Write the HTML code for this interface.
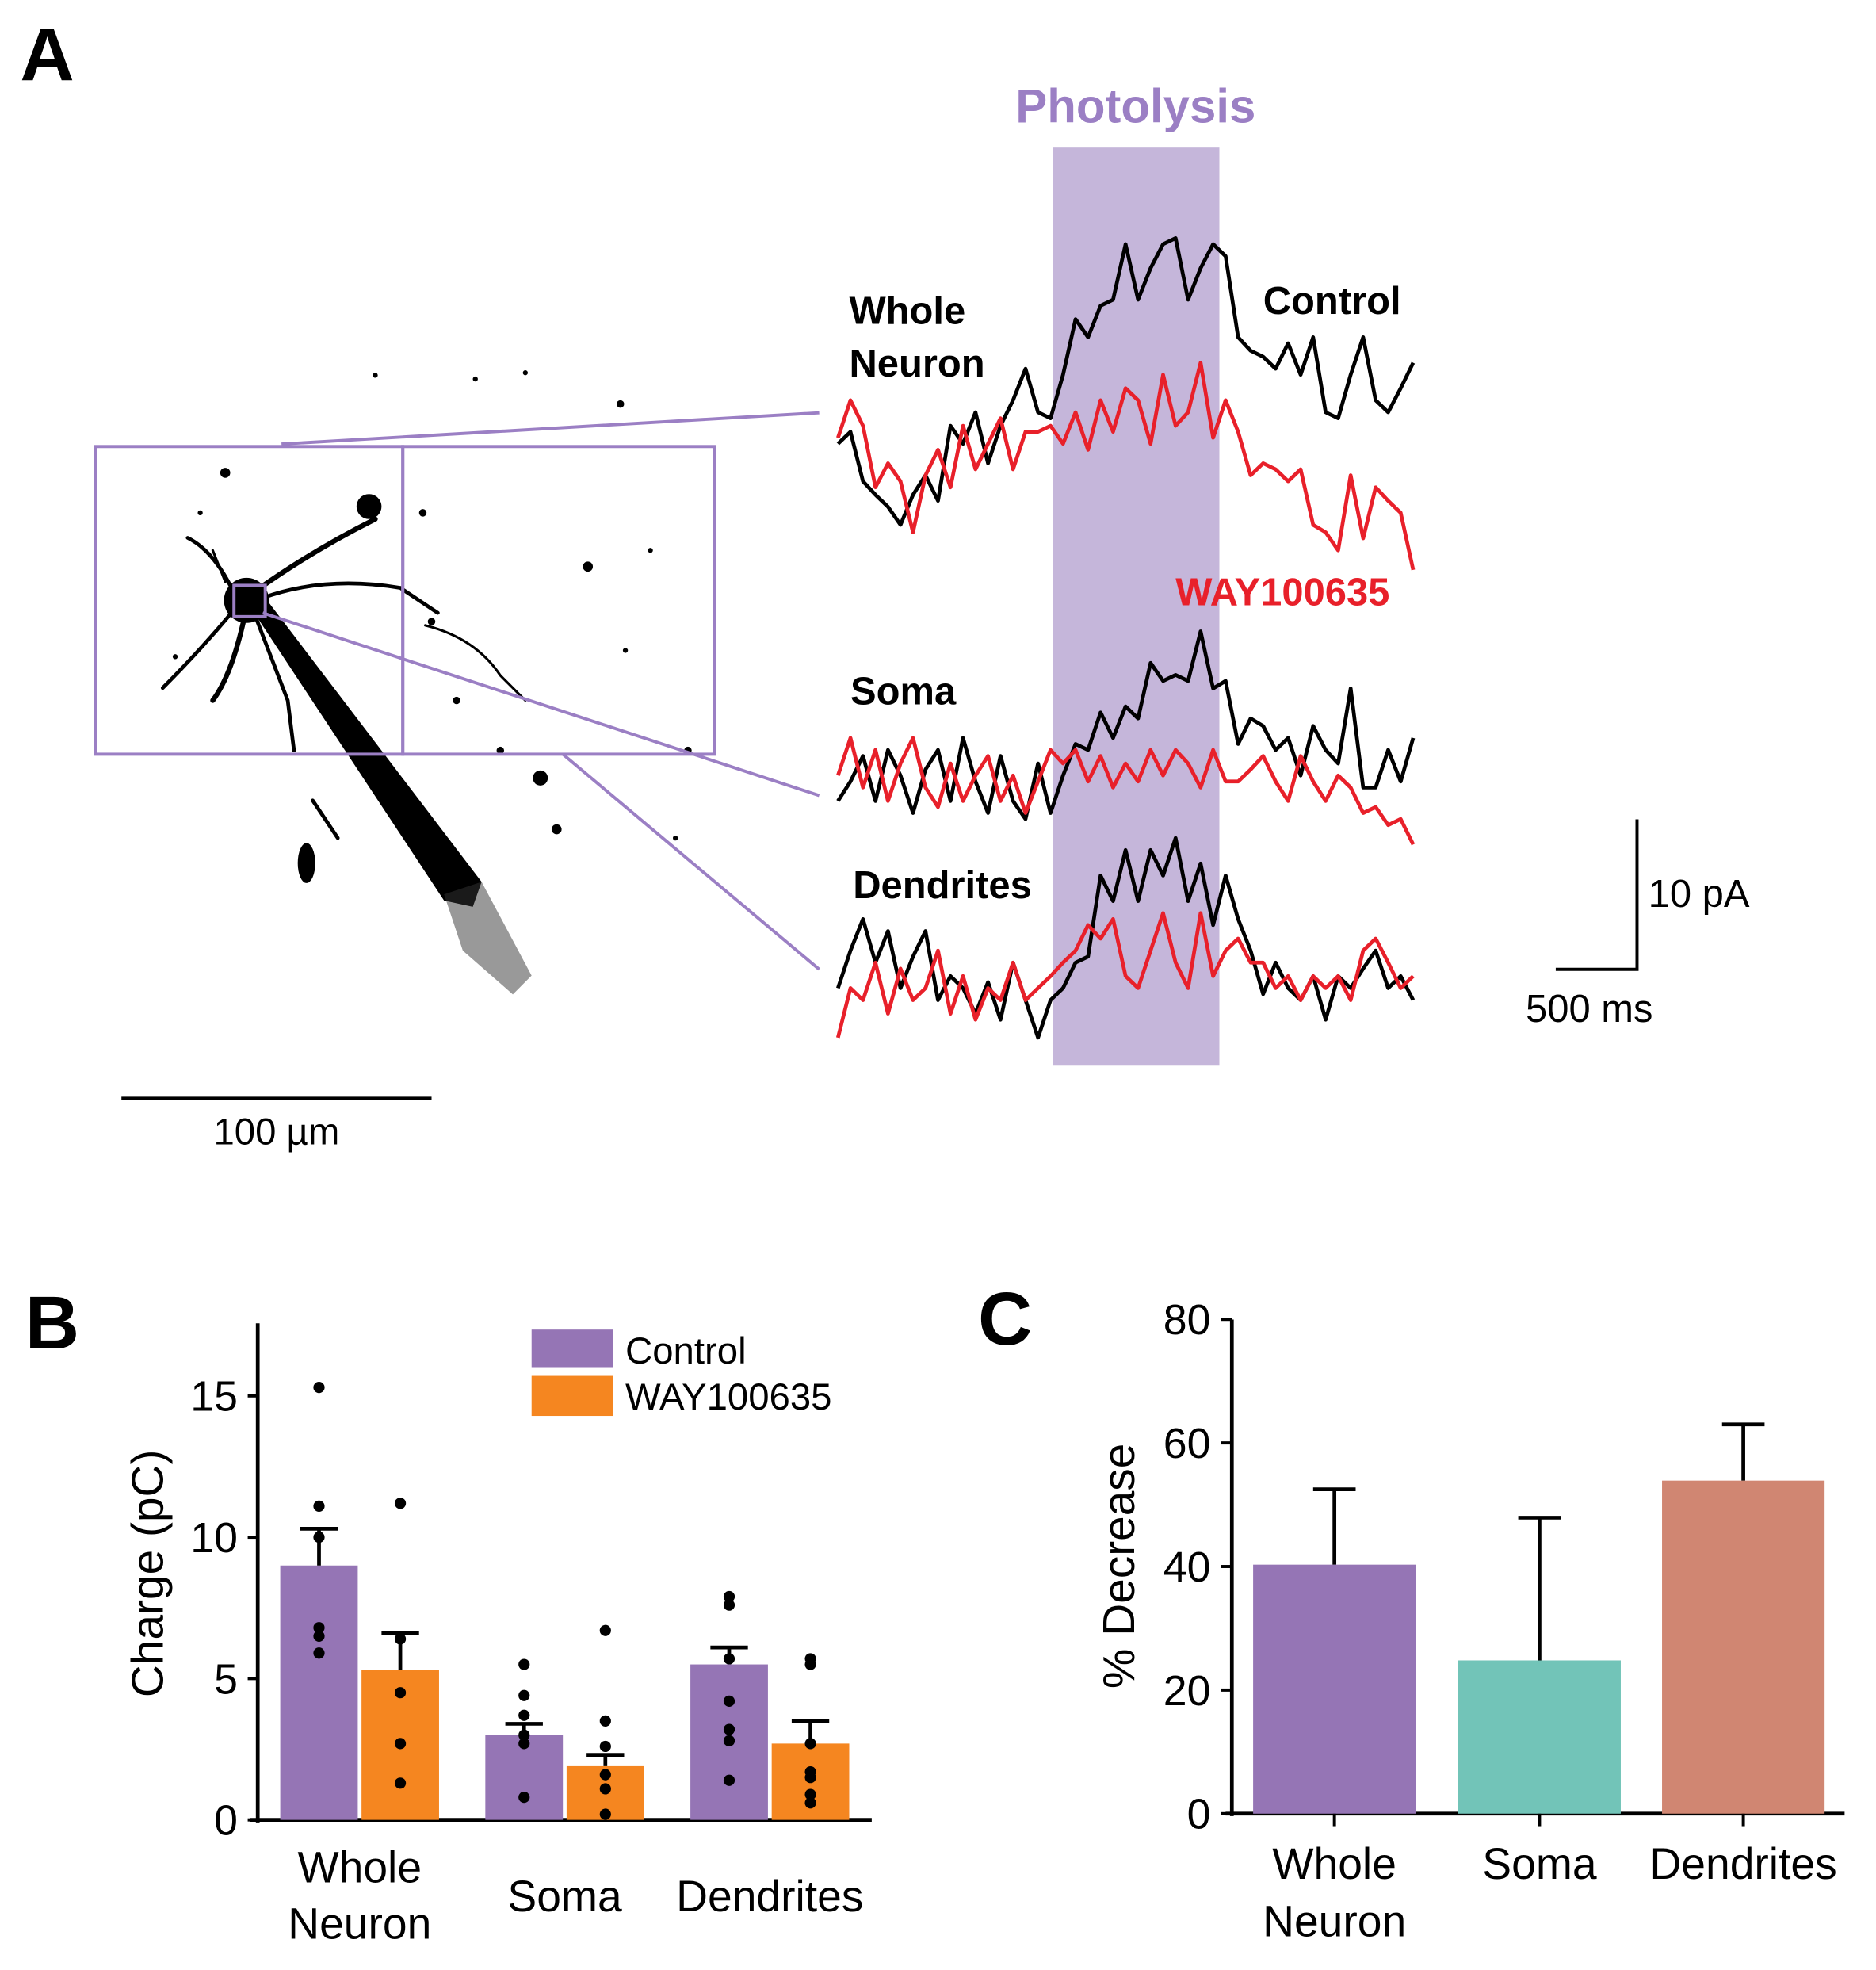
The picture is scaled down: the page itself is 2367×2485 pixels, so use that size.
<!DOCTYPE html>
<html><head><meta charset="utf-8"><style>
html,body{margin:0;padding:0;background:#fff}
svg{display:block}
text{font-family:"Liberation Sans",sans-serif}
</style></head><body>
<svg id="fig" width="2367" height="2485" viewBox="0 0 1500 1575" xmlns="http://www.w3.org/2000/svg">
<rect width="1500" height="1575" fill="#fff"/>
<g id="panelA">
<text x="16" y="64" font-size="60" font-weight="bold">A</text>
<g id="neuron">
<polygon points="190,470 212,478 385,705 378,725 355,720" fill="#000"/>
<polygon points="355,715 385,705 425,780 410,795 370,760" fill="#333" opacity="0.5"/>
<circle cx="197" cy="480" r="18" fill="#000"/>
<g stroke="#000" fill="none" stroke-linecap="round">
<path d="M205,472 Q250,440 300,415" stroke-width="4"/>
<path d="M210,478 Q260,460 320,470 L350,490" stroke-width="3"/>
<path d="M185,470 Q170,440 150,430" stroke-width="3"/>
<path d="M185,490 Q160,520 130,550" stroke-width="3"/>
<path d="M195,495 Q185,540 170,560" stroke-width="4"/>
<path d="M205,495 L230,560 L235,600" stroke-width="3"/>
<path d="M340,500 Q380,510 400,540 L420,560" stroke-width="2"/>
<path d="M180,465 L170,440" stroke-width="2"/>
<path d="M250,640 L270,670" stroke-width="3"/>
</g>
<circle cx="295" cy="405" r="10" fill="#000"/>
<ellipse cx="245" cy="690" rx="7" ry="16" fill="#000"/>
<g fill="#000">
<circle cx="180" cy="378" r="4"/><circle cx="470" cy="453" r="4"/><circle cx="432" cy="622" r="6"/><circle cx="345" cy="497" r="3"/><circle cx="380" cy="303" r="2"/><circle cx="420" cy="298" r="2"/><circle cx="496" cy="323" r="3"/><circle cx="338" cy="410" r="3"/><circle cx="365" cy="560" r="3"/><circle cx="445" cy="663" r="4"/><circle cx="140" cy="525" r="2"/><circle cx="520" cy="440" r="2"/><circle cx="400" cy="600" r="3"/><circle cx="160" cy="410" r="2"/><circle cx="300" cy="300" r="2"/><circle cx="550" cy="600" r="3"/><circle cx="500" cy="520" r="2"/><circle cx="540" cy="670" r="2"/>
</g>
</g>
<g stroke="#9b7fc4" stroke-width="2.5" fill="none">
<rect x="76" y="357" width="246" height="246"/>
<rect x="322" y="357" width="249" height="246"/>
<rect x="187" y="468" width="25" height="25"/>
<line x1="225" y1="355" x2="655" y2="330"/>
<line x1="210" y1="490" x2="655" y2="636"/>
<line x1="450" y1="603" x2="655" y2="775"/>
</g>
<line x1="97" y1="878" x2="345" y2="878" stroke="#000" stroke-width="2.5"/>
<text x="221" y="915" font-size="30" text-anchor="middle">100 µm</text>
<rect x="842" y="118" width="133" height="734" fill="#c5b6da"/>
<text x="908" y="98" font-size="38" font-weight="bold" fill="#9b7fc4" text-anchor="middle">Photolysis</text>
<g id="traces"></g>
<g font-size="31" font-weight="bold">
<text x="679" y="259">Whole</text>
<text x="679" y="301">Neuron</text>
<text x="1010" y="251">Control</text>
<text x="940" y="484" fill="#e8202a">WAY100635</text>
<text x="680" y="563">Soma</text>
<text x="682" y="718">Dendrites</text>
</g>
<path d="M1309,655 L1309,775 L1244,775" stroke="#000" stroke-width="2.5" fill="none"/>
<text x="1318" y="725" font-size="31">10 pA</text>
<text x="1220" y="817" font-size="31">500 ms</text>
</g>
<g id="panelB">
<text x="20" y="1078" font-size="60" font-weight="bold">B</text>
</g>
<g id="panelC">
<text x="782" y="1075" font-size="60" font-weight="bold">C</text>
</g>
</svg>
<script>
// ---- Panel A trace data (pA) ----
const traceTimes = 47;
const wnControl = [-0.4,0.4,-2.9,-3.8,-4.6,-5.8,-3.8,-2.5,-4.2,0.8,-0.4,1.7,-1.7,0.8,2.5,4.6,1.7,1.3,4.2,7.9,6.7,8.8,9.2,12.9,9.2,11.3,12.9,13.3,9.2,11.3,12.9,12.1,6.7,5.8,5.4,4.6,6.3,4.2,6.7,1.7,1.3,4.2,6.7,2.5,1.7,3.3,5.0];
const wnWay = [0,2.5,0.8,-3.3,-1.7,-2.9,-6.3,-2.5,-0.8,-3.3,0.8,-2.1,-0.4,1.3,-2.1,0.4,0.4,0.8,-0.4,1.7,-0.8,2.5,0.4,3.3,2.5,-0.4,4.2,0.8,1.7,5.0,0,2.5,0.4,-2.5,-1.7,-2.1,-2.9,-2.1,-5.8,-6.3,-7.5,-2.5,-6.7,-3.3,-4.2,-5.0,-8.8];
const somaControl = [-1.7,-0.4,1.3,-1.7,1.7,0,-2.5,0.4,1.7,-1.7,2.5,-0.4,-2.5,1.3,-1.7,-2.9,0.8,-2.5,0,2.1,1.7,4.2,2.5,4.6,3.8,7.5,6.3,6.7,6.3,9.6,5.8,6.3,2.1,3.8,3.3,1.7,2.5,0,3.3,1.7,0.8,5.8,-0.8,-0.8,1.7,-0.4,2.5];
const somaWay = [0,2.5,-0.8,1.7,-1.7,0.8,2.5,-0.8,-2.1,0.8,-1.7,0,1.3,-1.7,0,-2.5,-0.4,1.7,0.8,1.7,-0.4,1.3,-0.8,0.8,-0.4,1.7,0,1.7,0.8,-0.8,1.7,-0.4,-0.4,0.4,1.3,-0.4,-1.7,1.3,-0.4,-1.7,0,-0.8,-2.5,-2.1,-3.3,-2.9,-4.6];
const dendControl = [0,2.5,4.6,1.7,3.8,0,2.1,3.8,-0.8,0.8,0,-1.7,0.4,-2.1,1.7,-0.8,-3.3,-0.8,0,1.7,2.1,7.5,5.8,9.2,5.8,9.2,7.5,10,5.8,8.3,4.2,7.5,4.6,2.5,-0.4,1.7,0,-0.8,0.8,-2.1,0.8,0,1.3,2.5,0,0.8,-0.8];
const dendWay = [-3.3,0,-0.8,1.7,-1.7,1.3,-0.8,0,2.5,-1.7,0.8,-2.1,0,-0.8,1.7,-0.8,0,0.8,1.7,2.5,4.2,3.3,4.6,0.8,0,2.5,5.0,1.7,0,5.0,0.8,2.5,3.3,1.7,1.7,0,0.8,-0.8,0.8,0,0.8,-0.8,2.5,3.3,1.7,0,0.8];

// ---- Panel B data ----
const bCategories = ["Whole Neuron","Soma","Dendrites"];
const bControl = [9.0,3.0,5.5];
const bControlErr = [10.3,3.4,6.1];
const bWay = [5.3,1.9,2.7];
const bWayErr = [6.6,2.3,3.5];
const bControlDots = [[15.3,11.1,10.0,6.8,6.5,5.9],[5.5,4.4,3.7,3.0,2.7,0.8],[7.9,7.6,5.7,4.2,3.2,2.8,1.4]];
const bWayDots = [[11.2,6.4,4.5,2.7,1.3],[6.7,3.5,2.6,1.6,1.1,0.2],[5.7,5.5,2.7,1.7,1.5,0.9,0.6]];
const bTicks = [0,5,10,15];

// ---- Panel C data ----
const cCategories = ["Whole Neuron","Soma","Dendrites"];
const cValues = [40.3,24.8,53.9];
const cErr = [52.5,47.9,63.0];
const cTicks = [0,20,40,60,80];

const NS="http://www.w3.org/2000/svg";
function mk(tag,attrs,parent){const e=document.createElementNS(NS,tag);for(const k in attrs)e.setAttribute(k,attrs[k]);parent.appendChild(e);return e;}

// Traces
const tr=document.getElementById('traces');
const tx=i=>670+i*(460/(traceTimes-1));
const pAscale=12;
function drawTrace(vals,base,color,name){
  const d=vals.map((v,i)=>(i?'L':'M')+tx(i).toFixed(1)+','+(base-v*pAscale).toFixed(1)).join(' ');
  const p=mk('path',{d:d,fill:'none',stroke:color,'stroke-width':3,'stroke-linejoin':'round'},tr);
  
  
}
drawTrace(wnControl,350,'#000','whole-neuron-control-trace');
drawTrace(wnWay,350,'#e8202a','whole-neuron-way-trace');
drawTrace(somaControl,620,'#000','soma-control-trace');
drawTrace(somaWay,620,'#e8202a','soma-way-trace');
drawTrace(dendControl,790,'#000','dendrites-control-trace');
drawTrace(dendWay,790,'#e8202a','dendrites-way-trace');

// Panel B
const gB=document.getElementById('panelB');
const byB=v=>1455-v*22.6;
const groupX=[224,388,552];
const bw=62;
mk('line',{x1:206,y1:1058,x2:206,y2:1457,stroke:'#000','stroke-width':3},gB);
mk('line',{x1:200,y1:1455,x2:697,y2:1455,stroke:'#000','stroke-width':3},gB);
bTicks.forEach(t=>{
  const l=mk('line',{x1:198,y1:byB(t),x2:206,y2:byB(t),stroke:'#000','stroke-width':2.5},gB);
  
  
  const tt=mk('text',{x:190,y:byB(t)+12,'font-size':34,'text-anchor':'end'},gB);tt.textContent=t;
  
  
});
const yt=mk('text',{x:0,y:0,'font-size':36,'text-anchor':'middle',transform:'translate(130,1258) rotate(-90)'},gB);yt.textContent='Charge (pC)';


function barB(x,v,e,dots,color,name){
  const r=mk('rect',{x:x,y:byB(v),width:bw,height:byB(0)-byB(v),fill:color},gB);
  
  
  const cx=x+bw/2;
  const el=mk('path',{d:`M${cx},${byB(v)} L${cx},${byB(e)} M${cx-15},${byB(e)} L${cx+15},${byB(e)}`,stroke:'#000','stroke-width':3,fill:'none'},gB);
  
  
  dots.forEach(d=>{const c=mk('circle',{cx:cx,cy:byB(d),r:4.5,fill:'#000'},gB);
    
    });
}
bCategories.forEach((c,i)=>{
  barB(groupX[i],bControl[i],bControlErr[i],bControlDots[i],'#9575b5','b-bar-control-'+i);
  barB(groupX[i]+65,bWay[i],bWayErr[i],bWayDots[i],'#f58620','b-bar-way-'+i);
});
[["Whole","Neuron"],["Soma"],["Dendrites"]].forEach((lines,i)=>{
  const cx=groupX[i]+bw+1.5;
  lines.forEach((s,j)=>{
    const y=lines.length>1?1505+j*45:1528;
    const t=mk('text',{x:cx,y:y,'font-size':35,'text-anchor':'middle'},gB);t.textContent=s;
    
    
  });
});
const l1=mk('rect',{x:425,y:1063,width:65,height:30,fill:'#9575b5'},gB);


const l2=mk('rect',{x:425,y:1100,width:65,height:32,fill:'#f58620'},gB);


const lt1=mk('text',{x:500,y:1090,'font-size':30},gB);lt1.textContent='Control';


const lt2=mk('text',{x:500,y:1127,'font-size':30},gB);lt2.textContent='WAY100635';



// Panel C
const gC=document.getElementById('panelC');
const byC=v=>1450-v*4.94;
const cX=[1002,1166,1329];
const cColors=['#9575b5','#72c4b8','#d08672'];
const cw=130;
mk('line',{x1:985,y1:1055,x2:985,y2:1452,stroke:'#000','stroke-width':3},gC);
mk('line',{x1:980,y1:1450,x2:1475,y2:1450,stroke:'#000','stroke-width':3},gC);
cTicks.forEach(t=>{
  const l=mk('line',{x1:976,y1:byC(t),x2:985,y2:byC(t),stroke:'#000','stroke-width':2.5},gC);
  
  
  const tt=mk('text',{x:968,y:byC(t)+12,'font-size':34,'text-anchor':'end'},gC);tt.textContent=t;
  
  
});
const ytc=mk('text',{x:0,y:0,'font-size':36,'text-anchor':'middle',transform:'translate(907,1252) rotate(-90)'},gC);ytc.textContent='% Decrease';


cCategories.forEach((c,i)=>{
  const cx=cX[i]+cw/2;
  const r=mk('rect',{x:cX[i],y:byC(cValues[i]),width:cw,height:byC(0)-byC(cValues[i]),fill:cColors[i]},gC);
  
  
  const e=mk('path',{d:`M${cx},${byC(cValues[i])} L${cx},${byC(cErr[i])} M${cx-17},${byC(cErr[i])} L${cx+17},${byC(cErr[i])}`,stroke:'#000','stroke-width':3,fill:'none'},gC);
  
  
  const tk=mk('line',{x1:cx,y1:1450,x2:cx,y2:1460,stroke:'#000','stroke-width':2.5},gC);
  
  
});
[["Whole","Neuron"],["Soma"],["Dendrites"]].forEach((lines,i)=>{
  const cx=cX[i]+cw/2;
  lines.forEach((s,j)=>{
    const t=mk('text',{x:cx,y:1502+j*46,'font-size':35,'text-anchor':'middle'},gC);t.textContent=s;
    
    
  });
});
</script>
</body></html>
